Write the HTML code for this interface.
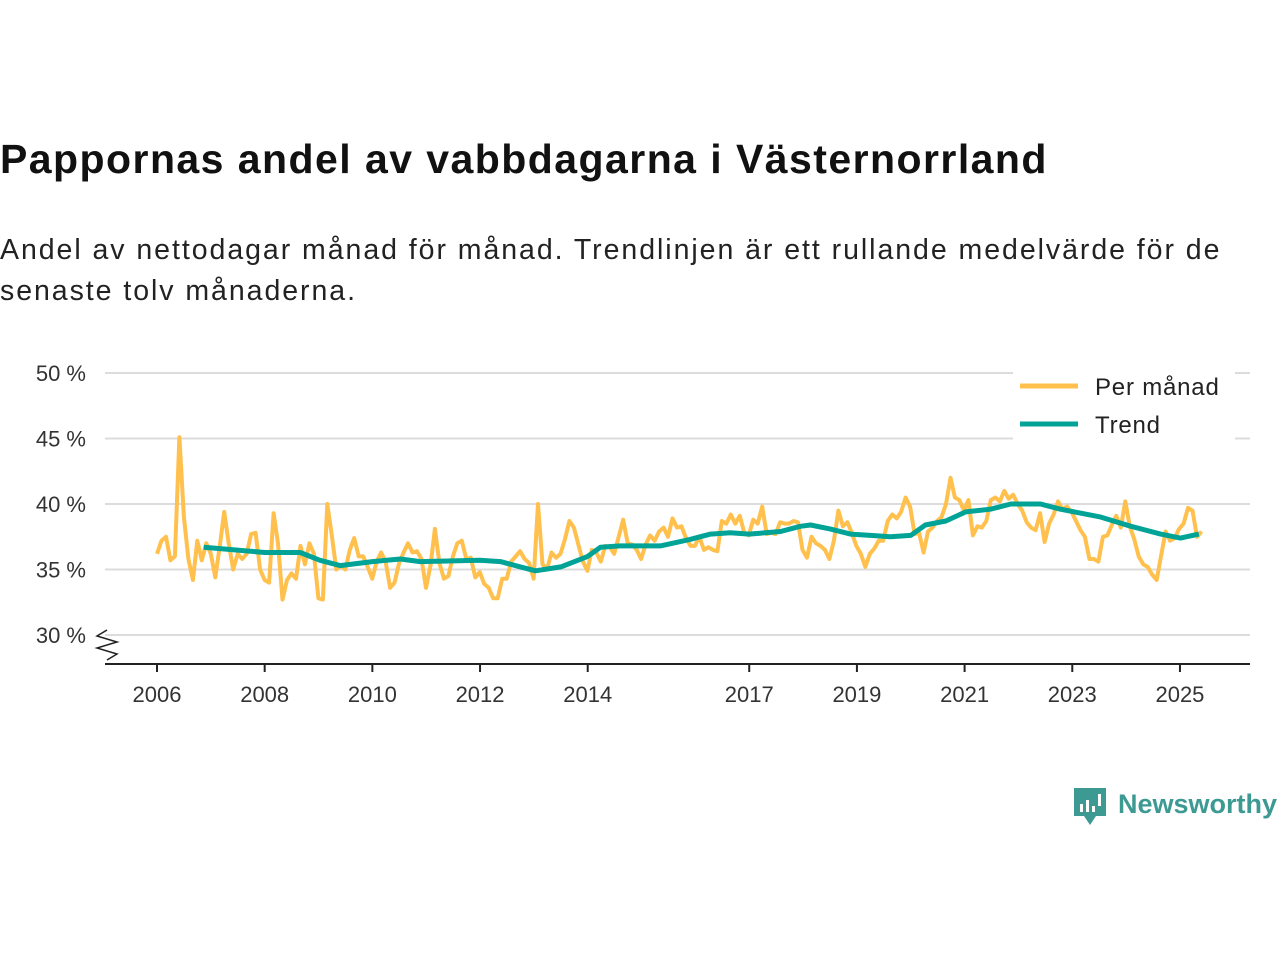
<!DOCTYPE html>
<html><head><meta charset="utf-8">
<style>
body{margin:0;width:1280px;height:960px;background:#fff;font-family:"Liberation Sans",sans-serif;overflow:hidden;position:relative}
#title{position:absolute;left:0;top:136px;font-size:41px;font-weight:bold;color:#111;margin:0;letter-spacing:1.45px;white-space:nowrap}
#sub{position:absolute;left:0;top:230px;font-size:28.5px;color:#222;line-height:41px;width:1250px;letter-spacing:1.95px}
svg{position:absolute;left:0;top:0}
</style></head><body>
<h1 id="title">Pappornas andel av vabbdagarna i Västernorrland</h1>
<div id="sub">Andel av nettodagar månad för månad. Trendlinjen är ett rullande medelvärde för de senaste tolv månaderna.</div>
<svg id="chart" width="1280" height="960"></svg>
<script>
const yTicks=[30,35,40,45,50];
const yTickLabels=["30 %","35 %","40 %","45 %","50 %"];
const xTicks=[2006,2008,2010,2012,2014,2017,2019,2021,2023,2025];
const monthStart=2006.0, monthEnd=2025.4;
const monthly=[36.2,37.2,37.5,35.7,36,45.1,39,35.8,34.2,37.2,35.7,37,36.2,34.4,36.8,39.4,37,35,36.2,35.8,36.2,37.7,37.8,35,34.2,34,39.3,37,32.7,34.2,34.7,34.3,36.8,35.4,37,36.2,32.8,32.7,40,37.6,35,35.3,35,36.5,37.4,36,36,35.2,34.3,35.6,36.3,35.6,33.6,34,35.5,36.3,37,36.3,36.4,35.8,33.6,35.3,38.1,35.5,34.3,34.5,36,37,37.2,35.8,35.9,34.4,34.8,33.9,33.6,32.8,32.8,34.3,34.3,35.6,36,36.4,35.8,35.5,34.3,40,35.4,35,36.3,35.9,36.2,37.3,38.7,38.2,36.9,35.6,34.9,36.5,36.3,35.6,36.8,36.7,36.2,37.5,38.8,37,36.9,36.5,35.8,36.9,37.6,37.2,37.9,38.2,37.5,38.9,38.2,38.3,37.4,36.8,36.8,37.5,36.5,36.7,36.5,36.4,38.7,38.5,39.2,38.5,39.1,37.8,37.6,38.8,38.5,39.8,37.7,37.8,37.7,38.6,38.5,38.5,38.7,38.6,36.5,35.9,37.5,37,36.8,36.5,35.8,37.2,39.5,38.3,38.6,37.8,36.8,36.2,35.2,36.2,36.6,37.2,37.2,38.7,39.2,38.9,39.4,40.5,39.8,37.7,37.8,36.3,37.9,38.2,38.7,39,40,42,40.5,40.3,39.5,40.3,37.6,38.3,38.2,38.7,40.3,40.5,40.2,41,40.4,40.7,40,39.5,38.6,38.2,38,39.3,37.1,38.5,39.2,40.2,39.6,39.8,39.4,38.7,38,37.5,35.8,35.8,35.6,37.5,37.6,38.4,39.1,38.2,40.2,38.3,37.3,36,35.4,35.2,34.6,34.2,36.1,37.9,37.2,37.4,38.1,38.5,39.7,39.5,37.5,37.9];
const trendDates=[2006.87,2008,2008.66,2009.03,2009.4,2010,2010.52,2010.89,2012,2012.38,2012.75,2013.03,2013.5,2014,2014.24,2014.6,2015.35,2015.9,2016.28,2016.65,2017,2017.58,2017.95,2018.14,2018.5,2018.88,2019.25,2019.62,2020,2020.27,2020.65,2021.02,2021.48,2021.86,2022.41,2022.78,2023.16,2023.53,2024.09,2024.64,2025.01,2025.35];
const trendValues=[36.7,36.3,36.3,35.7,35.3,35.6,35.8,35.6,35.7,35.6,35.2,34.9,35.2,36.0,36.7,36.8,36.8,37.3,37.7,37.8,37.7,37.9,38.3,38.4,38.1,37.7,37.6,37.5,37.6,38.4,38.7,39.4,39.6,40.0,40.0,39.6,39.3,39.0,38.3,37.7,37.4,37.7];

const NS="http://www.w3.org/2000/svg";
const svg=document.getElementById('chart');
const X=y=>157+(y-2006)*53.84;
const Y=v=>635-(v-30)*13.1;
function mk(t,a,p){const e=document.createElementNS(NS,t);for(const k in a)e.setAttribute(k,a[k]);(p||svg).appendChild(e);return e;}

yTicks.forEach((t,i)=>{
  const g=mk('line',{x1:105,x2:1250,y1:Y(t),y2:Y(t),stroke:'#dcdcdc','stroke-width':2});
  
  
  const tx=mk('text',{x:86,y:Y(t)+8,'text-anchor':'end','font-size':22,fill:'#333','font-family':'Liberation Sans, sans-serif'});
  tx.textContent=yTickLabels[i];
  
  
});
const ax=mk('line',{x1:105,x2:1250,y1:664,y2:664,stroke:'#222','stroke-width':2});


const brk=mk('path',{d:'M107 630 L97 636 L117 642 L97 648 L117 654 L107 660',fill:'none',stroke:'#222','stroke-width':1.5});


xTicks.forEach(t=>{
  const l=mk('line',{x1:X(t),x2:X(t),y1:664,y2:672,stroke:'#222','stroke-width':2});
  
  
  const tx=mk('text',{x:X(t),y:702,'text-anchor':'middle','font-size':22,fill:'#333','font-family':'Liberation Sans, sans-serif'});
  tx.textContent=t;
  
  
});
const step=(monthEnd-monthStart)/(monthly.length-1);
const mp=monthly.map((v,i)=>X(monthStart+i*step).toFixed(1)+','+Y(v).toFixed(1)).join(' ');
const ml=mk('polyline',{points:mp,fill:'none',stroke:'#ffc04d','stroke-width':4,'stroke-linejoin':'round'});


const tp=trendValues.map((v,i)=>X(trendDates[i]).toFixed(1)+','+Y(v).toFixed(1)).join(' ');
const tl=mk('polyline',{points:tp,fill:'none',stroke:'#00a396','stroke-width':5,'stroke-linejoin':'round'});



const lg=mk('g',{});


mk('rect',{x:1013,y:365,width:222,height:75,fill:'#fff'},lg);
mk('line',{x1:1020,x2:1078,y1:386,y2:386,stroke:'#ffc04d','stroke-width':5},lg);
mk('line',{x1:1020,x2:1078,y1:424,y2:424,stroke:'#00a396','stroke-width':5},lg);
const l1=mk('text',{x:1095,y:395,'font-size':24,fill:'#222','letter-spacing':0.8,'font-family':'Liberation Sans, sans-serif'},lg);
l1.textContent='Per månad';


const l2=mk('text',{x:1095,y:433,'font-size':24,fill:'#222','letter-spacing':0.8,'font-family':'Liberation Sans, sans-serif'},lg);
l2.textContent='Trend';



const logo=mk('g',{});


mk('path',{d:'M1074 788 h32 v28 h-10 l-6 9 l-6 -9 h-10 z',fill:'#3d9a93'},logo);
mk('rect',{x:1080,y:804,width:3,height:8,fill:'#fff'},logo);
mk('rect',{x:1086,y:800,width:3,height:12,fill:'#fff'},logo);
mk('rect',{x:1092,y:806,width:3,height:6,fill:'#fff'},logo);
mk('rect',{x:1098,y:794,width:3,height:12,fill:'#fff'},logo);
const lt=mk('text',{x:1118,y:813,'font-size':27,'font-weight':'bold',fill:'#3d9a93','font-family':'Liberation Sans, sans-serif'},logo);
lt.textContent='Newsworthy';
</script>
</body></html>
